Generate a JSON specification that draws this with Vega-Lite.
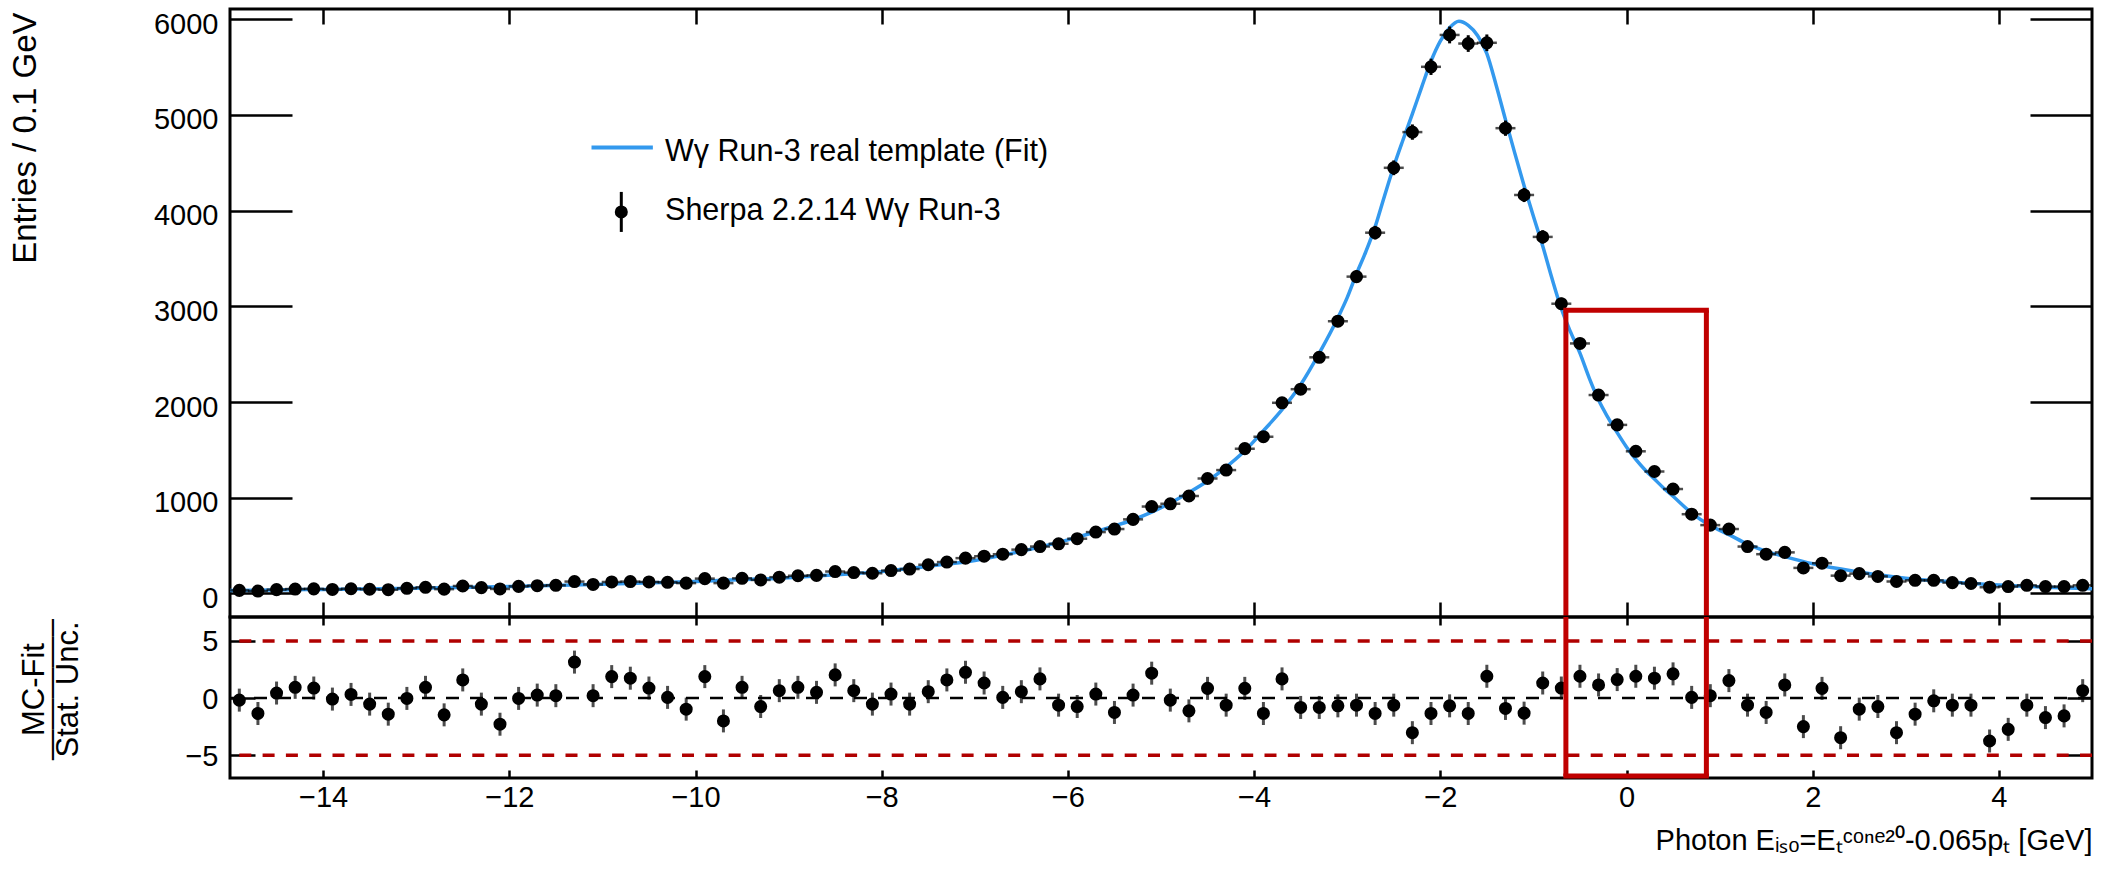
{
  "$schema": "https://vega.github.io/schema/vega-lite/v6.json",
  "background": "white",
  "padding": {"left": 7, "top": 7, "right": 10, "bottom": 10},
  "spacing": 0,
  "bounds": "flush",
  "config": {
    "font": "Liberation Sans",
    "view": {"stroke": "black", "strokeWidth": 3},
    "axis": {
      "domain": false, "ticks": false, "grid": true, "gridColor": "black", "gridOpacity": 1, "gridWidth": 2.5,
      "labelFont": "Liberation Sans", "labelFontSize": 29, "labelColor": "black",
      "titleFont": "Liberation Sans", "titleColor": "black", "titleFontWeight": "normal",
      "labelFlush": false, "labelBound": false, "format": "d"
    }
  },
  "datasets": {
    "bins": [
      {"x": -14.9, "n": 32, "err": 7, "r": -0.18},
      {"x": -14.7, "n": 25, "err": 6, "r": -1.35},
      {"x": -14.5, "n": 40, "err": 7, "r": 0.44},
      {"x": -14.3, "n": 46, "err": 8, "r": 0.94},
      {"x": -14.1, "n": 48, "err": 8, "r": 0.88},
      {"x": -13.9, "n": 42, "err": 7, "r": -0.09},
      {"x": -13.7, "n": 49, "err": 8, "r": 0.32},
      {"x": -13.5, "n": 44, "err": 8, "r": -0.53},
      {"x": -13.3, "n": 39, "err": 7, "r": -1.41},
      {"x": -13.1, "n": 54, "err": 8, "r": -0.03},
      {"x": -12.9, "n": 64, "err": 9, "r": 0.94},
      {"x": -12.7, "n": 45, "err": 8, "r": -1.47},
      {"x": -12.5, "n": 78, "err": 10, "r": 1.59},
      {"x": -12.3, "n": 61, "err": 9, "r": -0.53},
      {"x": -12.1, "n": 47, "err": 8, "r": -2.29},
      {"x": -11.9, "n": 74, "err": 10, "r": -0.03},
      {"x": -11.7, "n": 81, "err": 10, "r": 0.26},
      {"x": -11.5, "n": 85, "err": 11, "r": 0.21},
      {"x": -11.3, "n": 124, "err": 13, "r": 3.15},
      {"x": -11.1, "n": 94, "err": 11, "r": 0.21},
      {"x": -10.9, "n": 120, "err": 13, "r": 1.88},
      {"x": -10.7, "n": 124, "err": 13, "r": 1.74},
      {"x": -10.5, "n": 120, "err": 13, "r": 0.88},
      {"x": -10.3, "n": 116, "err": 12, "r": 0.06},
      {"x": -10.1, "n": 108, "err": 12, "r": -0.97},
      {"x": -9.9, "n": 155, "err": 14, "r": 1.88},
      {"x": -9.7, "n": 108, "err": 12, "r": -2.0},
      {"x": -9.5, "n": 158, "err": 14, "r": 0.94},
      {"x": -9.3, "n": 141, "err": 14, "r": -0.74},
      {"x": -9.1, "n": 170, "err": 15, "r": 0.65},
      {"x": -8.9, "n": 185, "err": 16, "r": 0.94},
      {"x": -8.7, "n": 189, "err": 16, "r": 0.5},
      {"x": -8.5, "n": 229, "err": 17, "r": 2.03},
      {"x": -8.3, "n": 218, "err": 17, "r": 0.65},
      {"x": -8.1, "n": 211, "err": 17, "r": -0.53},
      {"x": -7.9, "n": 239, "err": 18, "r": 0.35},
      {"x": -7.7, "n": 255, "err": 18, "r": -0.53},
      {"x": -7.5, "n": 300, "err": 20, "r": 0.56},
      {"x": -7.3, "n": 328, "err": 21, "r": 1.59},
      {"x": -7.1, "n": 369, "err": 22, "r": 2.26},
      {"x": -6.9, "n": 389, "err": 23, "r": 1.32},
      {"x": -6.7, "n": 410, "err": 23, "r": 0.06},
      {"x": -6.5, "n": 458, "err": 25, "r": 0.56},
      {"x": -6.3, "n": 490, "err": 25, "r": 1.68},
      {"x": -6.1, "n": 519, "err": 26, "r": -0.62},
      {"x": -5.9, "n": 572, "err": 28, "r": -0.74},
      {"x": -5.7, "n": 641, "err": 29, "r": 0.35},
      {"x": -5.5, "n": 673, "err": 30, "r": -1.26},
      {"x": -5.3, "n": 774, "err": 32, "r": 0.26},
      {"x": -5.1, "n": 908, "err": 35, "r": 2.18},
      {"x": -4.9, "n": 937, "err": 35, "r": -0.18},
      {"x": -4.7, "n": 1018, "err": 37, "r": -1.12},
      {"x": -4.5, "n": 1201, "err": 40, "r": 0.85},
      {"x": -4.3, "n": 1289, "err": 41, "r": -0.62},
      {"x": -4.1, "n": 1513, "err": 45, "r": 0.85},
      {"x": -3.9, "n": 1638, "err": 47, "r": -1.35},
      {"x": -3.7, "n": 1992, "err": 51, "r": 1.68},
      {"x": -3.5, "n": 2134, "err": 53, "r": -0.82},
      {"x": -3.3, "n": 2467, "err": 57, "r": -0.82},
      {"x": -3.1, "n": 2844, "err": 61, "r": -0.68},
      {"x": -2.9, "n": 3310, "err": 66, "r": -0.62},
      {"x": -2.7, "n": 3769, "err": 71, "r": -1.35},
      {"x": -2.5, "n": 4447, "err": 77, "r": -0.62},
      {"x": -2.3, "n": 4820, "err": 80, "r": -3.03},
      {"x": -2.1, "n": 5502, "err": 85, "r": -1.35},
      {"x": -1.9, "n": 5835, "err": 88, "r": -0.68},
      {"x": -1.7, "n": 5745, "err": 87, "r": -1.35},
      {"x": -1.5, "n": 5753, "err": 87, "r": 1.91},
      {"x": -1.3, "n": 4861, "err": 80, "r": -0.91},
      {"x": -1.1, "n": 4163, "err": 74, "r": -1.32},
      {"x": -0.9, "n": 3725, "err": 70, "r": 1.32},
      {"x": -0.7, "n": 3027, "err": 63, "r": 0.88},
      {"x": -0.5, "n": 2612, "err": 59, "r": 1.91},
      {"x": -0.3, "n": 2073, "err": 52, "r": 1.15},
      {"x": -0.1, "n": 1761, "err": 48, "r": 1.62},
      {"x": 0.1, "n": 1485, "err": 44, "r": 1.91},
      {"x": 0.3, "n": 1274, "err": 41, "r": 1.74},
      {"x": 0.5, "n": 1091, "err": 38, "r": 2.12},
      {"x": 0.7, "n": 828, "err": 33, "r": 0.06},
      {"x": 0.9, "n": 714, "err": 31, "r": 0.21},
      {"x": 1.1, "n": 673, "err": 30, "r": 1.53},
      {"x": 1.3, "n": 490, "err": 25, "r": -0.62},
      {"x": 1.5, "n": 410, "err": 23, "r": -1.26},
      {"x": 1.7, "n": 429, "err": 24, "r": 1.15},
      {"x": 1.9, "n": 267, "err": 19, "r": -2.5},
      {"x": 2.1, "n": 316, "err": 20, "r": 0.85},
      {"x": 2.3, "n": 186, "err": 16, "r": -3.47},
      {"x": 2.5, "n": 207, "err": 17, "r": -0.97},
      {"x": 2.7, "n": 178, "err": 15, "r": -0.74},
      {"x": 2.9, "n": 125, "err": 13, "r": -3.03},
      {"x": 3.1, "n": 137, "err": 13, "r": -1.41},
      {"x": 3.3, "n": 137, "err": 13, "r": -0.24},
      {"x": 3.5, "n": 113, "err": 12, "r": -0.62},
      {"x": 3.7, "n": 104, "err": 12, "r": -0.62},
      {"x": 3.9, "n": 65, "err": 9, "r": -3.76},
      {"x": 4.1, "n": 72, "err": 10, "r": -2.74},
      {"x": 4.3, "n": 85, "err": 11, "r": -0.62},
      {"x": 4.5, "n": 72, "err": 10, "r": -1.71},
      {"x": 4.7, "n": 72, "err": 10, "r": -1.56},
      {"x": 4.9, "n": 85, "err": 11, "r": 0.65}
    ],
    "fit": [
      {"x": -15, "f": 32}, {"x": -14, "f": 42}, {"x": -13, "f": 55}, {"x": -12, "f": 72},
      {"x": -11, "f": 95}, {"x": -10, "f": 125}, {"x": -9, "f": 165}, {"x": -8.5, "f": 195},
      {"x": -8, "f": 228}, {"x": -7.5, "f": 285}, {"x": -7, "f": 345}, {"x": -6.5, "f": 440},
      {"x": -6, "f": 560}, {"x": -5.5, "f": 705}, {"x": -5.3, "f": 770}, {"x": -5.1, "f": 850},
      {"x": -4.9, "f": 945}, {"x": -4.7, "f": 1055}, {"x": -4.5, "f": 1175}, {"x": -4.3, "f": 1320},
      {"x": -4.1, "f": 1490}, {"x": -3.9, "f": 1700}, {"x": -3.7, "f": 1920}, {"x": -3.5, "f": 2180},
      {"x": -3.3, "f": 2510}, {"x": -3.1, "f": 2880}, {"x": -3.0, "f": 3090}, {"x": -2.9, "f": 3340},
      {"x": -2.8, "f": 3570}, {"x": -2.7, "f": 3830}, {"x": -2.6, "f": 4150}, {"x": -2.5, "f": 4460},
      {"x": -2.4, "f": 4740}, {"x": -2.3, "f": 5010}, {"x": -2.2, "f": 5290}, {"x": -2.1, "f": 5560},
      {"x": -2.0, "f": 5770}, {"x": -1.9, "f": 5910}, {"x": -1.8, "f": 5978}, {"x": -1.7, "f": 5935},
      {"x": -1.6, "f": 5830}, {"x": -1.5, "f": 5640}, {"x": -1.4, "f": 5310}, {"x": -1.3, "f": 4950},
      {"x": -1.2, "f": 4600}, {"x": -1.1, "f": 4260}, {"x": -1.0, "f": 3940}, {"x": -0.9, "f": 3630},
      {"x": -0.8, "f": 3290}, {"x": -0.7, "f": 2975}, {"x": -0.6, "f": 2730}, {"x": -0.5, "f": 2510},
      {"x": -0.4, "f": 2250}, {"x": -0.3, "f": 2020}, {"x": -0.2, "f": 1840}, {"x": -0.1, "f": 1680},
      {"x": 0.0, "f": 1530}, {"x": 0.1, "f": 1400}, {"x": 0.2, "f": 1290}, {"x": 0.3, "f": 1195},
      {"x": 0.4, "f": 1100}, {"x": 0.5, "f": 1015}, {"x": 0.7, "f": 840}, {"x": 0.9, "f": 710},
      {"x": 1.1, "f": 615}, {"x": 1.3, "f": 515}, {"x": 1.5, "f": 440}, {"x": 1.7, "f": 385},
      {"x": 2.0, "f": 310}, {"x": 2.5, "f": 225}, {"x": 3.0, "f": 160}, {"x": 3.5, "f": 120},
      {"x": 4.0, "f": 88}, {"x": 4.5, "f": 66}, {"x": 5.0, "f": 48}
    ]
  },
  "vconcat": [
    {
      "width": 1862,
      "height": 608,
      "resolve": {"axis": {"x": "independent", "y": "independent"}},
      "layer": [
        {
          "data": {"name": "fit"},
          "mark": {"type": "line", "color": "#3399ee", "strokeWidth": 3.5, "interpolate": "monotone", "clip": true},
          "encoding": {
            "x": {
              "field": "x", "type": "quantitative",
              "scale": {"domain": [-15, 5], "nice": false, "zero": false},
              "axis": {
                "orient": "bottom", "title": null, "labels": false,
                "values": [-14,-12,-10,-8,-6,-4,-2,0,2,4],
                "gridDash": [15, 578, 15]
              }
            },
            "y": {
              "field": "f", "type": "quantitative",
              "scale": {"domain": [-246, 6106], "nice": false, "zero": false},
              "axis": {
                "orient": "left",
                "title": "Entries / 0.1 GeV", "titleX": -195, "titleY": 3, "titleAngle": -90,
                "titleAlign": "right", "titleBaseline": "alphabetic", "titleFontSize": 33,
                "values": [0,1000,2000,3000,4000,5000,6000],
                "labelOverlap": false,
                "labelPadding": 12, "labelOffset": 5,
                "gridDash": [62, 1738, 62]
              }
            }
          }
        },
        {
          "data": {"name": "bins"},
          "mark": {"type": "tick", "orient": "horizontal", "size": 20, "thickness": 2.5, "color": "black"},
          "encoding": {
            "x": {
              "field": "x", "type": "quantitative",
              "axis": {
                "orient": "top", "title": null, "labels": false,
                "values": [-15,-14.5,-13.5,-13,-12.5,-11.5,-11,-10.5,-9.5,-9,-8.5,-7.5,-7,-6.5,-5.5,-5,-4.5,-3.5,-3,-2.5,-1.5,-1,-0.5,0.5,1,1.5,2.5,3,3.5,4.5,5],
                "gridDash": [8, 592, 8]
              }
            },
            "y": {
              "field": "n", "type": "quantitative",
              "axis": {
                "orient": "right", "title": null, "labels": false,
                "values": [-200,200,400,600,800,1200,1400,1600,1800,2200,2400,2600,2800,3200,3400,3600,3800,4200,4400,4600,4800,5200,5400,5600,5800],
                "gridDash": [31, 1800, 31]
              }
            }
          }
        },
        {
          "data": {"name": "bins"},
          "mark": {"type": "errorbar", "ticks": false, "thickness": 3, "color": "black"},
          "encoding": {
            "x": {"field": "x", "type": "quantitative", "axis": null},
            "y": {"field": "n", "type": "quantitative", "axis": null},
            "yError": {"field": "err"}
          }
        },
        {
          "data": {"name": "bins"},
          "mark": {"type": "point", "filled": true, "color": "black", "size": 170, "opacity": 1},
          "encoding": {
            "x": {"field": "x", "type": "quantitative", "axis": null},
            "y": {"field": "n", "type": "quantitative", "axis": null}
          }
        },
        {
          "data": {"values": [{}]},
          "mark": {"type": "rule", "color": "#3399ee", "strokeWidth": 4},
          "encoding": {
            "x": {"datum": -11.117, "type": "quantitative", "axis": null},
            "x2": {"datum": -10.458},
            "y": {"datum": 4660, "type": "quantitative", "axis": null}
          }
        },
        {
          "data": {"values": [{}]},
          "mark": {"type": "rule", "color": "black", "strokeWidth": 3},
          "encoding": {
            "x": {"datum": -10.797, "type": "quantitative", "axis": null},
            "y": {"datum": 3777, "type": "quantitative", "axis": null},
            "y2": {"datum": 4195}
          }
        },
        {
          "data": {"values": [{}]},
          "mark": {"type": "point", "filled": true, "color": "black", "size": 170, "opacity": 1},
          "encoding": {
            "x": {"datum": -10.797, "type": "quantitative", "axis": null},
            "y": {"datum": 3986, "type": "quantitative", "axis": null}
          }
        },
        {
          "data": {"values": [{}]},
          "mark": {"type": "text", "align": "left", "baseline": "alphabetic", "fontSize": 30.5, "font": "Liberation Sans", "color": "black"},
          "encoding": {
            "x": {"datum": -10.327, "type": "quantitative", "axis": null},
            "y": {"datum": 4520, "type": "quantitative", "axis": null},
            "text": {"value": "Wγ Run-3 real template (Fit)"}
          }
        },
        {
          "data": {"values": [{}]},
          "mark": {"type": "text", "align": "left", "baseline": "alphabetic", "fontSize": 30.5, "font": "Liberation Sans", "color": "black"},
          "encoding": {
            "x": {"datum": -10.327, "type": "quantitative", "axis": null},
            "y": {"datum": 3898, "type": "quantitative", "axis": null},
            "text": {"value": "Sherpa 2.2.14 Wγ Run-3"}
          }
        },
        {
          "data": {"values": [{}]},
          "mark": {"type": "rule", "color": "#c00000", "strokeWidth": 5},
          "encoding": {
            "x": {"datum": -0.651, "type": "quantitative", "axis": null},
            "y": {"datum": 2958, "type": "quantitative", "axis": null},
            "y2": {"datum": -246}
          }
        },
        {
          "data": {"values": [{}]},
          "mark": {"type": "rule", "color": "#c00000", "strokeWidth": 5},
          "encoding": {
            "x": {"datum": 0.858, "type": "quantitative", "axis": null},
            "y": {"datum": 2958, "type": "quantitative", "axis": null},
            "y2": {"datum": -246}
          }
        },
        {
          "data": {"values": [{}]},
          "mark": {"type": "rule", "color": "#c00000", "strokeWidth": 5, "strokeCap": "square"},
          "encoding": {
            "x": {"datum": -0.651, "type": "quantitative", "axis": null},
            "x2": {"datum": 0.858},
            "y": {"datum": 2958, "type": "quantitative", "axis": null}
          }
        }
      ]
    },
    {
      "width": 1862,
      "height": 161,
      "resolve": {"axis": {"x": "independent", "y": "independent"}},
      "layer": [
        {
          "data": {"values": [{}]},
          "mark": {"type": "rule", "color": "black", "strokeWidth": 2.5, "strokeDash": [13, 11]},
          "encoding": {
            "x": {
              "datum": -15, "type": "quantitative",
              "scale": {"domain": [-15, 5], "nice": false, "zero": false},
              "axis": {
                "orient": "bottom",
                "title": "Photon Eᵢₛₒ=Eₜᶜᵒⁿᵉ²⁰-0.065pₜ [GeV]",
                "titleAnchor": "end", "titleAlign": "right", "titleX": 1862, "titleY": 71,
                "titleBaseline": "alphabetic", "titleFontSize": 29,
                "values": [-14,-12,-10,-8,-6,-4,-2,0,2,4],
                "labelOverlap": false,
                "labelPadding": 5, "labelBaseline": "top",
                "gridDash": [8, 145, 8]
              }
            },
            "x2": {"datum": 5},
            "y": {
              "datum": 0, "type": "quantitative",
              "scale": {"domain": [-7, 7.1], "nice": false, "zero": false},
              "axis": {
                "orient": "left",
                "title": ["MC-Fit", "————–", "Stat. Unc."],
                "titleX": -187, "titleY": 72, "titleAngle": -90, "titleAlign": "center",
                "titleBaseline": "alphabetic", "titleFontSize": 31, "titleLineHeight": 17,
                "values": [-5, 0, 5],
                "labelOverlap": false,
                "labelPadding": 12, "labelOffset": 1,
                "gridDash": [25, 1812, 25]
              }
            }
          }
        },
        {
          "data": {"values": [{}]},
          "mark": {"type": "rule", "color": "#b00000", "strokeWidth": 3.5, "strokeDash": [12, 11.3]},
          "encoding": {"y": {"datum": 5, "type": "quantitative", "axis": null}}
        },
        {
          "data": {"values": [{}]},
          "mark": {"type": "rule", "color": "#b00000", "strokeWidth": 3.5, "strokeDash": [12, 11.3]},
          "encoding": {"y": {"datum": -5, "type": "quantitative", "axis": null}}
        },
        {
          "data": {"name": "bins"},
          "mark": {"type": "tick", "orient": "vertical", "size": 23, "thickness": 3, "color": "black"},
          "encoding": {
            "x": {
              "field": "x", "type": "quantitative",
              "axis": {
                "orient": "top", "title": null, "labels": false,
                "values": [-15,-14.5,-13.5,-13,-12.5,-11.5,-11,-10.5,-9.5,-9,-8.5,-7.5,-7,-6.5,-5.5,-5,-4.5,-3.5,-3,-2.5,-1.5,-1,-0.5,0.5,1,1.5,2.5,3,3.5,4.5,5],
                "gridDash": [4, 153, 4]
              }
            },
            "y": {
              "field": "r", "type": "quantitative",
              "axis": {
                "orient": "right", "title": null, "labels": false,
                "values": [-7,-6,-4,-3,-2,-1,1,2,3,4,6,7],
                "gridDash": [20, 1822, 20]
              }
            }
          }
        },
        {
          "data": {"name": "bins"},
          "mark": {"type": "point", "filled": true, "color": "black", "size": 170, "opacity": 1},
          "encoding": {
            "x": {"field": "x", "type": "quantitative", "axis": null},
            "y": {"field": "r", "type": "quantitative", "axis": null}
          }
        },
        {
          "data": {"values": [{}]},
          "mark": {"type": "rule", "color": "#c00000", "strokeWidth": 5},
          "encoding": {
            "x": {"datum": -0.651, "type": "quantitative", "axis": null},
            "y": {"datum": 7.1, "type": "quantitative", "axis": null},
            "y2": {"datum": -6.82}
          }
        },
        {
          "data": {"values": [{}]},
          "mark": {"type": "rule", "color": "#c00000", "strokeWidth": 5},
          "encoding": {
            "x": {"datum": 0.858, "type": "quantitative", "axis": null},
            "y": {"datum": 7.1, "type": "quantitative", "axis": null},
            "y2": {"datum": -6.82}
          }
        },
        {
          "data": {"values": [{}]},
          "mark": {"type": "rule", "color": "#c00000", "strokeWidth": 5, "strokeCap": "square"},
          "encoding": {
            "x": {"datum": -0.651, "type": "quantitative", "axis": null},
            "x2": {"datum": 0.858},
            "y": {"datum": -6.82, "type": "quantitative", "axis": null}
          }
        }
      ]
    }
  ]
}
